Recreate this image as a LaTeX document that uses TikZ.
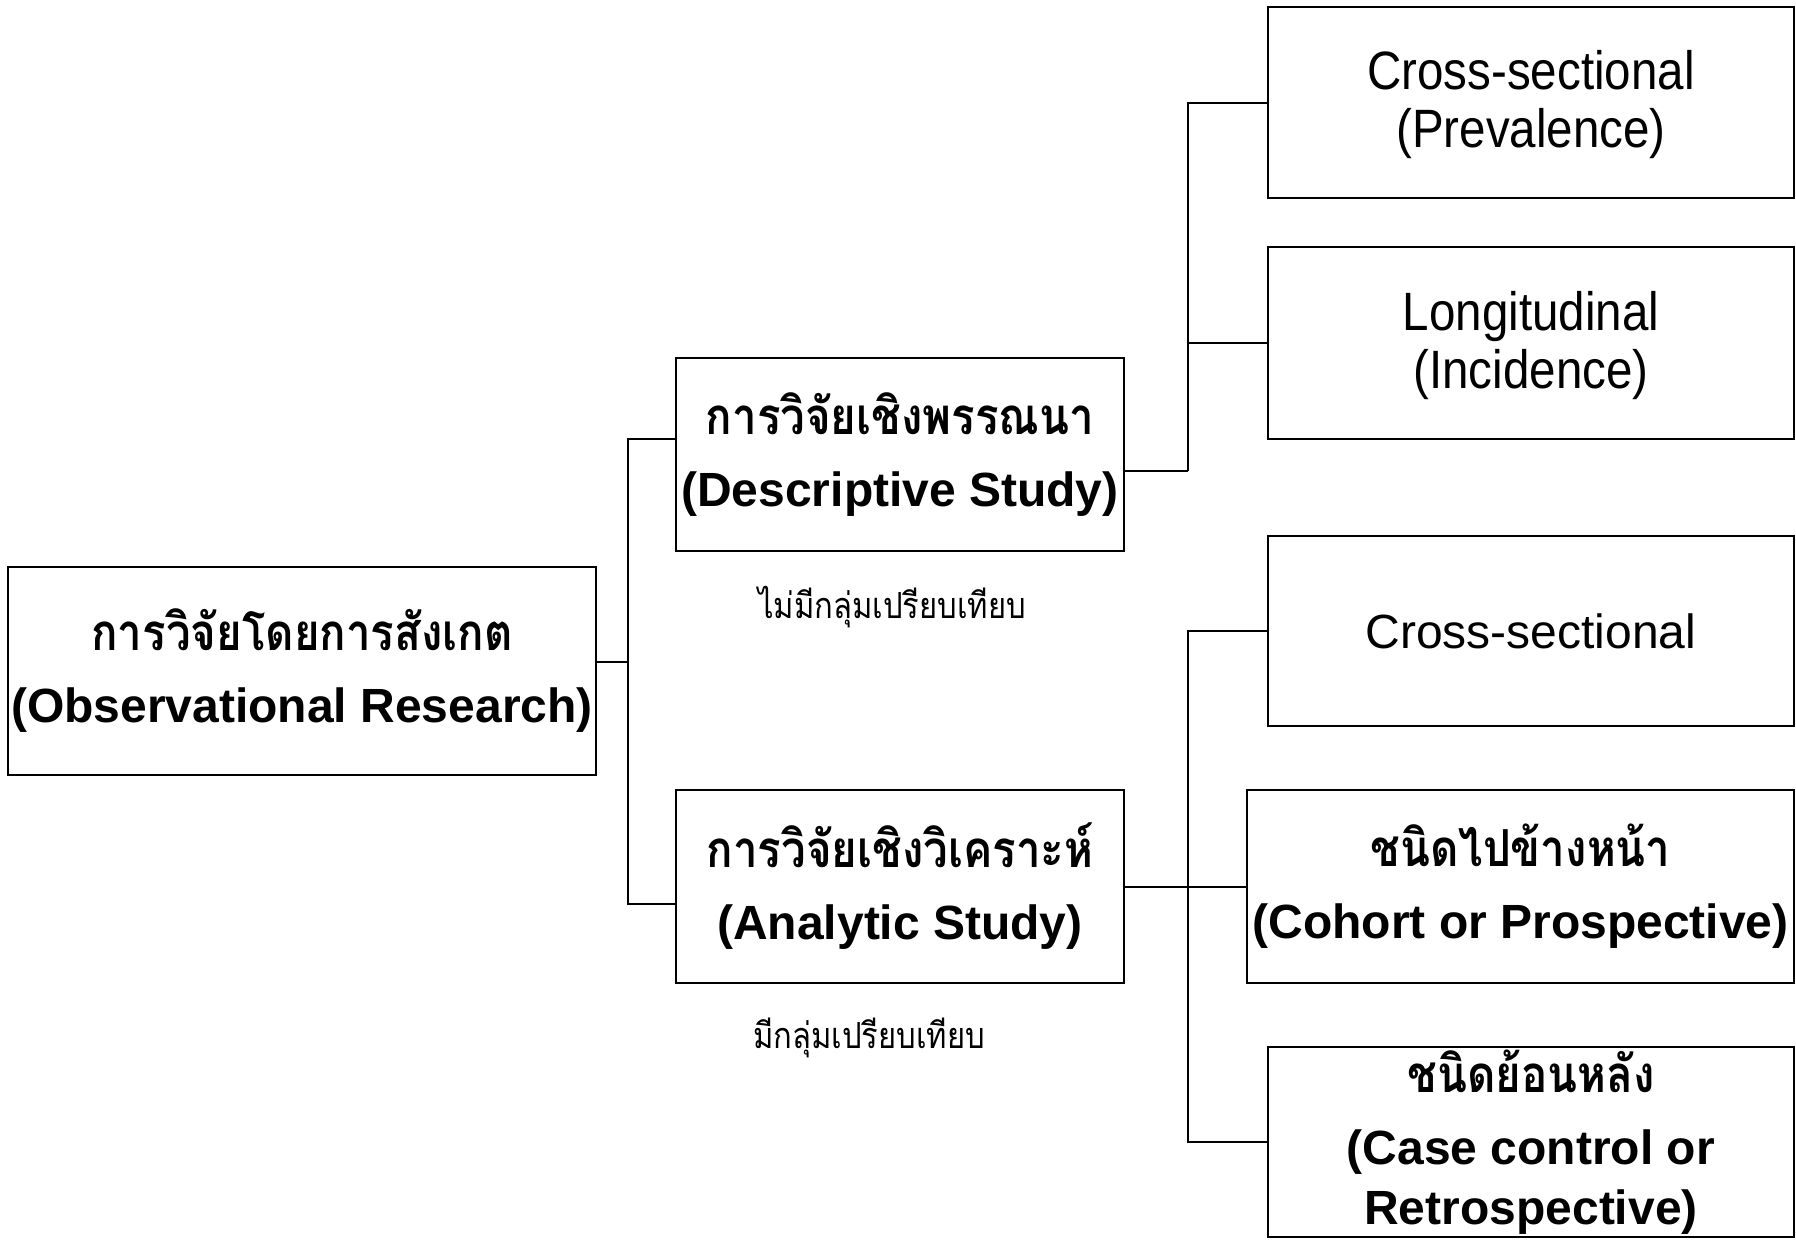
\documentclass[tikz,border=0pt]{standalone}
\usepackage{fontspec}
\setmainfont{Liberation Sans}
\newfontfamily\thaifont[Script=Thai,FakeStretch=0.86]{Loma}
\newfontfamily\tallsans[FakeStretch=0.88]{Liberation Sans}
\newcommand\thaibold[1]{{\thaifont\fontsize{25.5}{30}\selectfont #1}}
\usetikzlibrary{positioning}

\begin{document}
\begin{tikzpicture}[
    x=0.5pt, y=-0.5pt,
    boldbox/.style={rectangle, draw, line width=1pt, inner sep=1pt,
        align=center, font=\fontsize{24}{30}\selectfont\bfseries},
    plainbox/.style={rectangle, draw, line width=1pt, inner sep=1pt,
        align=center, font=\tallsans\fontsize{27}{30}\selectfont},
    flatbox/.style={rectangle, draw, line width=1pt, inner sep=1pt,
        align=center, font=\fontsize{24}{30}\selectfont},
    note/.style={font=\thaifont\fontsize{18}{20}\selectfont},
    link/.style={line width=1pt},
]
\useasboundingbox (0,0) rectangle (1796,1239);

% ---- left and middle ----
\node (obs)  [boldbox, minimum width=294pt, minimum height=104pt] at (302,671)
    {\thaibold{การวิจัยโดยการสังเกต}\\[6pt](Observational Research)};
\node (desc) [boldbox, minimum width=224pt, minimum height=96.5pt] at (900,454.5)
    {\thaibold{การวิจัยเชิงพรรณนา}\\[6pt](Descriptive Study)};
\node (ana)  [boldbox, minimum width=224pt, minimum height=96.5pt] at (900,886.5)
    {\thaibold{การวิจัยเชิงวิเคราะห์}\\[6pt](Analytic Study)};

\node (nocomp) [note] at (892,607)  {ไม่มีกลุ่มเปรียบเทียบ};
\node (comp)   [note] at (869,1038) {มีกลุ่มเปรียบเทียบ};

% ---- right column ----
\node (prev)   [plainbox, minimum width=263pt, minimum height=95.5pt] at (1531,102.5)
    {\rule{0pt}{22pt}Cross-sectional\\[-1pt](Prevalence)};
\node (long)   [plainbox, minimum width=263pt, minimum height=96pt] at (1531,343)
    {\rule{0pt}{22pt}Longitudinal\\[-1pt](Incidence)};
\node (cross)  [flatbox, minimum width=263pt, minimum height=95pt] at (1531,631)
    {Cross-sectional};
\node (cohort) [boldbox, minimum width=273.5pt, minimum height=96.5pt] at (1520.5,886.5)
    {\thaibold{ชนิดไปข้างหน้า}\\[6pt](Cohort or Prospective)};
\node (case)   [boldbox, minimum width=263pt, minimum height=95pt] at (1531,1142)
    {\thaibold{ชนิดย้อนหลัง}\\[6pt](Case control or\\Retrospective)};

% ---- connectors ----
\coordinate (split1) at (628,662);
\coordinate (split2) at (1188,471);
\coordinate (split3) at (1188,886.5);

\draw[link] ([yshift=4.5pt]obs.east) -- (split1);
\draw[link] ([yshift=7.75pt]desc.west) -| (split1) |- ([yshift=-8.75pt]ana.west);

\draw[link] ([yshift=-8.25pt]desc.east) -- (split2);
\draw[link] (prev.west) -| (split2);
\draw[link] (long.west) -- (long.west -| split2);

\draw[link] (ana.east) -- (cohort.west);
\draw[link] (cross.west) -| (split3) |- (case.west);

\end{tikzpicture}
\end{document}
